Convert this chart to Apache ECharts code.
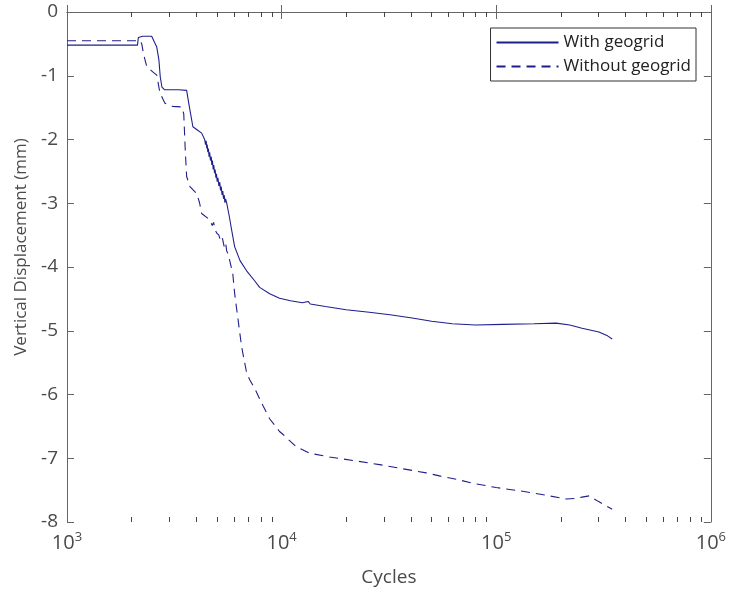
<!DOCTYPE html>
<html>
<head>
<meta charset="utf-8">
<script src="https://cdn.jsdelivr.net/npm/echarts@6/dist/echarts.min.js"></script>
<style>
  html, body { margin: 0; padding: 0; background: #fff; }
  #chart { width: 729px; height: 596px; }
</style>
</head>
<body>
<div id="chart"></div>
<script>
// values (cycles, vertical displacement in mm)
const withCycles = [1000, 2130, 2150, 2250, 2480, 2560, 2620, 2680, 2720, 2770, 2850, 3300, 3610, 3700, 3860, 4050, 4240, 4380,
  4420, 4450, 4480, 4500, 4530, 4560, 4590, 4620, 4660, 4700, 4730, 4760, 4800, 4830, 4870, 4900, 4940, 4970,
  5010, 5050, 5100, 5150, 5190, 5230, 5280, 5320, 5360, 5400, 5440, 5480, 5550,
  5700, 5850, 6040, 6400, 6870, 7500, 7900, 8800, 9780, 11000, 12500, 13300, 13600, 16000, 20000, 25600,
  32000, 40600, 50000, 62400, 80000, 107000, 150000, 190000, 220000, 251000, 301000, 330000, 347000];
const withDisp = [-0.52, -0.52, -0.40, -0.38, -0.38, -0.48, -0.55, -0.75, -1.02, -1.18, -1.22, -1.22, -1.23, -1.45, -1.80, -1.85, -1.90, -2.00,
  -2.08, -2.02, -2.14, -2.08, -2.20, -2.14, -2.27, -2.20, -2.33, -2.27, -2.40, -2.33, -2.47, -2.40, -2.53, -2.47, -2.60, -2.54,
  -2.66, -2.60, -2.73, -2.67, -2.80, -2.74, -2.87, -2.81, -2.93, -2.87, -2.99, -2.93, -3.00,
  -3.20, -3.42, -3.68, -3.90, -4.06, -4.22, -4.32, -4.42, -4.49, -4.53, -4.56, -4.54, -4.58, -4.62, -4.67, -4.71,
  -4.75, -4.80, -4.85, -4.89, -4.91, -4.90, -4.89, -4.88, -4.91, -4.96, -5.02, -5.08, -5.13];

const withoutCycles = [1000, 2190, 2230, 2280, 2355, 2510, 2620, 2710, 2860, 3100, 3430, 3500, 3560, 3610, 3740, 4030, 4150, 4240, 4630,
  4750, 4820, 4900, 4990, 5100, 5200, 5300, 5400, 5480, 5550, 5640, 5720,
  5920, 6040, 6180, 6510, 6870, 7100, 7480, 8170, 8790, 9780, 10100, 11700, 13500, 16700, 22000, 28600,
  36000, 47200, 55000, 65200, 77300, 100000, 128000, 170000, 212000, 235000, 251000, 271000, 300000, 347000];
const withoutDisp = [-0.45, -0.45, -0.50, -0.68, -0.86, -0.94, -0.99, -1.27, -1.43, -1.48, -1.49, -1.60, -2.20, -2.58, -2.74, -2.85, -3.00, -3.16, -3.26,
  -3.35, -3.30, -3.42, -3.47, -3.50, -3.60, -3.55, -3.68, -3.62, -3.75, -3.80, -3.89,
  -4.10, -4.41, -4.67, -5.25, -5.66, -5.77, -5.90, -6.17, -6.38, -6.58, -6.62, -6.82, -6.92, -6.98, -7.04, -7.10,
  -7.16, -7.23, -7.28, -7.33, -7.39, -7.46, -7.51, -7.58, -7.64, -7.63, -7.61, -7.59, -7.68, -7.80];

const yTicks = [0, -1, -2, -3, -4, -5, -6, -7, -8];
const decades = [1000, 10000, 100000, 1000000];
const minorSteps = [2, 3, 4, 5, 6, 7, 8, 9];

const lineColor = '#1f1f8c';
const axisColor = '#666';
const textColor = '#4a4a4a';
const font = 'Open Sans';

// minor tick positions for the log axis, placed on a log10 value axis
const minorTicks = [];
decades.slice(0, 3).forEach(function (d) {
  minorSteps.forEach(function (m) { minorTicks.push(Math.log10(m * d)); });
});

function pairs(xs, ys) {
  return xs.map(function (x, i) { return [x, ys[i]]; });
}

const chart = echarts.init(document.getElementById('chart'));

function majorAxis(pos, showLabel) {
  return {
    type: 'log',
    logBase: 10,
    position: pos,
    min: 1000,
    max: 1000000,
    name: showLabel ? 'Cycles' : '',
    nameLocation: 'middle',
    nameGap: 46,
    nameTextStyle: { fontFamily: font, fontSize: 19, color: textColor },
    axisLine: { show: true, lineStyle: { color: axisColor, width: 1 } },
    axisTick: { show: true, inside: true, length: 7, lineStyle: { color: axisColor } },
    splitLine: { show: false },
    minorTick: { show: false },
    axisLabel: {
      show: showLabel,
      margin: 9,
      fontFamily: font,
      color: textColor,
      formatter: function (v) {
        return '{b|10}{s|' + Math.round(Math.log10(v)) + '}';
      },
      rich: {
        b: { fontFamily: font, fontSize: 20, color: textColor },
        s: { fontFamily: font, fontSize: 13, color: textColor, padding: [0, 0, 11, 0] }
      }
    }
  };
}

function minorAxis(pos) {
  return {
    type: 'value',
    position: pos,
    min: 3,
    max: 6,
    axisLine: { show: false },
    axisLabel: { show: false, customValues: minorTicks },
    splitLine: { show: false },
    axisTick: {
      show: true, inside: true, length: 5, interval: 0,
      customValues: minorTicks,
      lineStyle: { color: '#444', width: 1 }
    }
  };
}

function yAxisDef(pos, showLabel) {
  return {
    type: 'value',
    position: pos,
    min: -8,
    max: 0,
    interval: 1,
    name: showLabel ? 'Vertical Displacement (mm)' : '',
    nameLocation: 'middle',
    nameGap: 36,
    nameTextStyle: { fontFamily: font, fontSize: 17, color: textColor, padding: [0, 0, 0, 40] },
    axisLine: { show: true, lineStyle: { color: axisColor, width: 1 } },
    axisTick: { show: true, inside: true, length: 7, lineStyle: { color: axisColor } },
    splitLine: { show: false },
    axisLabel: {
      show: showLabel,
      margin: 9,
      fontFamily: font,
      fontSize: 19,
      color: textColor,
      customValues: yTicks
    }
  };
}

const option = {
  animation: false,
  backgroundColor: '#fff',
  grid: { left: 67, right: 17, top: 12, bottom: 74, containLabel: false },
  legend: {
    orient: 'vertical',
    right: 33,
    top: 28,
    itemWidth: 62,
    itemHeight: 14,
    itemGap: 7,
    padding: [6, 5, 6, 5],
    borderColor: '#333',
    borderWidth: 1,
    backgroundColor: '#fff',
    itemStyle: { opacity: 0 },
    textStyle: { fontFamily: font, fontSize: 17, color: '#222' },
    data: ['With geogrid', 'Without geogrid']
  },
  xAxis: [majorAxis('bottom', true), majorAxis('top', false), minorAxis('bottom'), minorAxis('top')],
  yAxis: [yAxisDef('left', true), yAxisDef('right', false)],
  series: [
    {
      name: 'With geogrid',
      type: 'line',
      xAxisIndex: 0,
      yAxisIndex: 0,
      symbol: 'none',
      lineStyle: { color: lineColor, width: 1.1 },
      itemStyle: { color: lineColor },
      data: pairs(withCycles, withDisp)
    },
    {
      name: 'Without geogrid',
      type: 'line',
      xAxisIndex: 0,
      yAxisIndex: 0,
      symbol: 'none',
      lineStyle: { color: lineColor, width: 1.1, type: [9, 6] },
      itemStyle: { color: lineColor },
      data: pairs(withoutCycles, withoutDisp)
    }
  ]
};

chart.setOption(option);
</script>
</body>
</html>
